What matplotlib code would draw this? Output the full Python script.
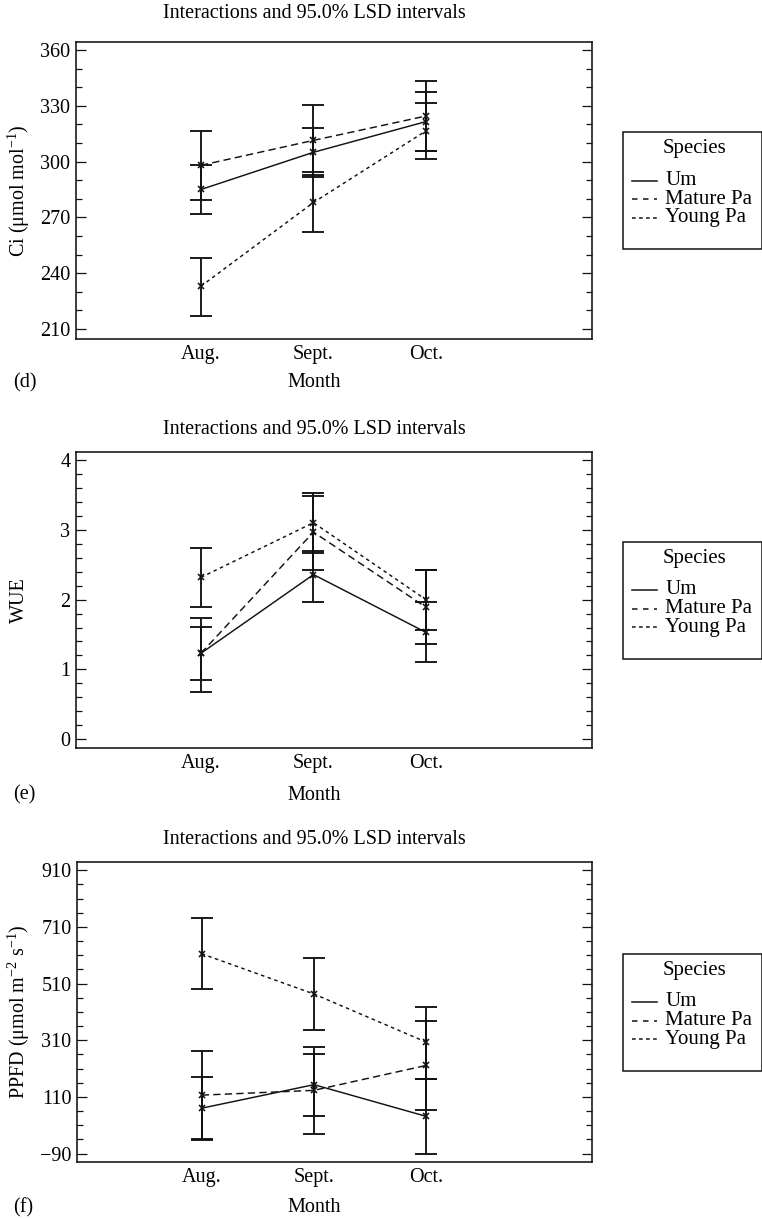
import matplotlib
matplotlib.use("Agg")
import matplotlib.pyplot as plt
from matplotlib.lines import Line2D
from matplotlib.patches import Rectangle
from matplotlib.ticker import MultipleLocator

plt.rcParams['font.family'] = ['Liberation Serif', 'DejaVu Serif']
plt.rcParams['mathtext.fontset'] = 'custom'
plt.rcParams['mathtext.rm'] = 'Liberation Serif'
plt.rcParams['mathtext.it'] = 'Liberation Serif:italic'
plt.rcParams['mathtext.bf'] = 'Liberation Serif:bold'
plt.rcParams['axes.unicode_minus'] = True

months = ["Aug.", "Sept.", "Oct."]
species = ["Um", "Mature Pa", "Young Pa"]

# Ci (umol mol-1): means with 95% LSD interval bounds
ci_um = [285.0, 305.0, 321.5]
ci_um_lo = [271.6, 291.7, 305.9]
ci_um_hi = [298.4, 318.1, 337.3]
ci_mature = [298.0, 311.4, 324.5]
ci_mature_lo = [279.2, 293.0, 305.9]
ci_mature_hi = [316.5, 330.6, 343.3]
ci_young = [233.0, 278.0, 316.5]
ci_young_lo = [217.2, 262.0, 301.2]
ci_young_hi = [248.3, 294.2, 331.5]

# WUE
wue_um = [1.23, 2.36, 1.53]
wue_um_lo = [0.848, 1.967, 1.110]
wue_um_hi = [1.605, 2.705, 1.962]
wue_mature = [1.23, 2.97, 1.89]
wue_mature_lo = [0.681, 2.429, 1.367]
wue_mature_hi = [1.738, 3.490, 2.429]
wue_young = [2.32, 3.105, 2.00]
wue_young_lo = [1.890, 2.667, 1.571]
wue_young_hi = [2.748, 3.529, 2.429]

# PPFD (umol m-2 s-1)
ppfd_um = [70.0, 153.0, 41.0]
ppfd_um_lo = [-43.0, 41.0, -90.0]
ppfd_um_hi = [180.0, 260.0, 173.0]
ppfd_mature = [116.0, 133.0, 221.0]
ppfd_mature_lo = [-40.0, -22.0, 64.0]
ppfd_mature_hi = [271.0, 287.0, 379.0]
ppfd_young = [615.0, 473.0, 303.0]
ppfd_young_lo = [490.0, 346.0, 174.0]
ppfd_young_hi = [740.0, 599.0, 428.0]

W, H = 762, 1219
fig = plt.figure(figsize=(W / 100, H / 100), dpi=100)

FS = 14.5
LEG_FS = 15
INK = '#121212'
line_styles = {
    "Um": '-',
    "Mature Pa": (0, (5.0, 2.9)),
    "Young Pa": (0, (2.4, 2.4)),
}
legend_styles = {
    "Um": '-',
    "Mature Pa": (0, (3.6, 3.6)),
    "Young Pa": (0, (2.4, 2.2)),
}


def fx(px):
    return px / W


def fy(py):
    return 1 - py / H


def draw_legend(cy):
    """Boxed 'Species' key to the right of a panel, centred on height cy (px)."""
    top = cy - 58.5
    box_h = 117
    fig.add_artist(Rectangle((fx(623), fy(top + box_h)), fx(761.5 - 623), box_h / H,
                             transform=fig.transFigure, fill=False,
                             edgecolor=INK, lw=1.1))
    fig.text(fx(694), fy(top + 17), "Species", ha='center', va='center', fontsize=LEG_FS)
    for i, name in enumerate(species):
        yy = top + 48.5 + i * 18.7
        fig.add_artist(Line2D([fx(632), fx(657)], [fy(yy), fy(yy)],
                              transform=fig.transFigure, color=INK, lw=1.1,
                              linestyle=legend_styles[name]))
        fig.text(fx(665), fy(yy), name, ha='left', va='center', fontsize=LEG_FS)


def panel(box, series, ylim, major, minor, ylabel, tag, title_y, month_y, offset=0.0):
    left, top, right, bottom = box
    ax = fig.add_axes([fx(left), fy(bottom), fx(right - left), (bottom - top) / H])
    x = list(range(len(months)))
    for name, (mean, lo, hi) in zip(species, series):
        yerr = [[m - l for m, l in zip(mean, lo)], [h - m for m, h in zip(mean, hi)]]
        ax.errorbar(x, mean, yerr=yerr, fmt='none', ecolor=INK, elinewidth=1.35,
                    capsize=8, capthick=1.35, zorder=2)
        ax.plot(x, mean, linestyle=line_styles[name], color=INK, lw=1.05,
                marker='x', ms=4.5, mew=1.15, zorder=3)
    ax.set_xlim(-1.111, 3.476)
    ax.set_ylim(*ylim)
    ax.yaxis.set_major_locator(MultipleLocator(major, offset=offset))
    ax.yaxis.set_minor_locator(MultipleLocator(minor, offset=offset % minor))
    ax.set_xticks(x)
    ax.set_xticklabels(months, fontsize=FS)
    ax.tick_params(axis='x', length=0, pad=4)
    ax.tick_params(axis='y', which='both', direction='in', left=True, right=True,
                   labelsize=FS, pad=4, width=0.9, color=INK)
    ax.tick_params(axis='y', which='major', length=7.2)
    ax.tick_params(axis='y', which='minor', length=4.3)
    for sp in ax.spines.values():
        sp.set_linewidth(1.15)
        sp.set_color(INK)

    cy = (top + bottom) / 2
    fig.text(fx(19), fy(cy), ylabel, rotation=90, ha='center', va='center', fontsize=FS)
    fig.text(fx(314), fy(title_y), "Interactions and 95.0% LSD intervals",
             ha='center', va='center', fontsize=FS)
    fig.text(fx(314), fy(month_y), "Month", ha='center', va='center', fontsize=FS)
    fig.text(fx(13), fy(month_y), tag, ha='left', va='center', fontsize=FS)
    draw_legend(cy)
    return ax


panel((76, 42, 592, 339),
      [(ci_um, ci_um_lo, ci_um_hi), (ci_mature, ci_mature_lo, ci_mature_hi),
       (ci_young, ci_young_lo, ci_young_hi)],
      (204.6, 364.3), 30, 10, "Ci (μmol mol$^{-1}$)", "(d)", 14, 383)

panel((76, 452, 592, 748),
      [(wue_um, wue_um_lo, wue_um_hi), (wue_mature, wue_mature_lo, wue_mature_hi),
       (wue_young, wue_young_lo, wue_young_hi)],
      (-0.13, 4.12), 1, 0.2, "WUE", "(e)", 430, 795)

panel((77, 862, 592, 1162),
      [(ppfd_um, ppfd_um_lo, ppfd_um_hi), (ppfd_mature, ppfd_mature_lo, ppfd_mature_hi),
       (ppfd_young, ppfd_young_lo, ppfd_young_hi)],
      (-120, 939), 200, 50, "PPFD (μmol m$^{-2}$ s$^{-1}$)", "(f)", 840, 1208,
      offset=110)

fig.savefig("out.png", dpi=100)
